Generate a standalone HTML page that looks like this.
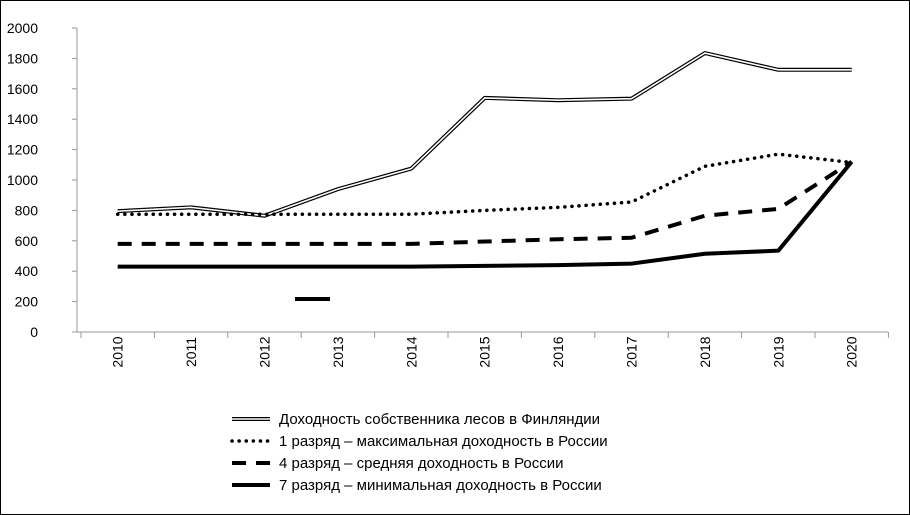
<!DOCTYPE html>
<html><head><meta charset="utf-8"><style>
body{margin:0;background:#fff}
svg{display:block;font-family:"Liberation Sans","DejaVu Sans",sans-serif}
</style></head><body>
<svg id="c" width="910" height="515">
<rect x="0.5" y="0.5" width="909" height="514" fill="#fff" stroke="#000"/>
<g id="axes"></g><g id="series"></g>
<rect x="295" y="297" width="35" height="4" fill="#000"/>
<g id="legend"></g>
</svg>
<script>
const years=["2010","2011","2012","2013","2014","2015","2016","2017","2018","2019","2020"];
const finland=[795,820,765,940,1075,1540,1525,1535,1835,1725,1725];
const grade1=[775,775,775,775,775,800,820,855,1090,1170,1115];
const grade4=[580,580,580,580,580,595,610,620,765,810,1120];
const grade7=[430,430,430,430,430,435,440,450,515,535,1120];
const yTicks=[0,200,400,600,800,1000,1200,1400,1600,1800,2000];
const names=["Доходность собственника лесов в Финляндии","1 разряд – максимальная доходность в России","4 разряд – средняя доходность в России","7 разряд – минимальная доходность в России"];
const NS="http://www.w3.org/2000/svg";
const X0=81,CW=73.4,Y0=332,Y1=28;
const xs=i=>X0+CW*(i+0.5);
const ys=v=>Y0-(v/2000)*(Y0-Y1);
function mk(t,a,p){const e=document.createElementNS(NS,t);for(const k in a)e.setAttribute(k,a[k]);p.appendChild(e);return e;}
const ax=document.getElementById('axes');
yTicks.forEach(v=>{const t=mk('text',{x:38,y:ys(v)+5,'text-anchor':'end','font-size':14,fill:'#000'},ax);t.textContent=v;


mk('line',{x1:72,x2:77,y1:ys(v),y2:ys(v),stroke:'#999'},ax);});
mk('line',{x1:77,x2:77,y1:Y1,y2:Y0,stroke:'#999'},ax);
const xl=mk('line',{x1:75,x2:888,y1:Y0,y2:Y0,stroke:'#999'},ax);


for(let i=0;i<=years.length;i++)mk('line',{x1:X0+CW*i,x2:X0+CW*i,y1:Y0,y2:Y0+6,stroke:'#999'},ax);
years.forEach((y,i)=>{const t=mk('text',{x:0,y:0,transform:`translate(${xs(i)+5},352) rotate(-90)`,'text-anchor':'middle','font-size':14,fill:'#000'},ax);t.textContent=y;

});
function path(vals){return vals.map((v,i)=>(i?'L':'M')+xs(i)+','+ys(v)).join(' ');}
const sg=document.getElementById('series');
const styles=[
 [{stroke:'#000','stroke-width':4},{stroke:'#fff','stroke-width':1.6}],
 [{stroke:'#000','stroke-width':3.5,'stroke-dasharray':'0.1 7','stroke-linecap':'round'}],
 [{stroke:'#000','stroke-width':4,'stroke-dasharray':'14 10'}],
 [{stroke:'#000','stroke-width':4}]];
const data=[finland,grade1,grade4,grade7];
const snames=['series-finland','series-grade-1','series-grade-4','series-grade-7'];
data.forEach((vals,si)=>{const g=mk('g',{},sg);


styles[si].forEach(st=>mk('path',Object.assign({d:path(vals),fill:'none','stroke-linejoin':'round'},st),g));});
const lg=document.getElementById('legend');
names.forEach((n,i)=>{const y=419+i*22;const g=mk('g',{},lg);


styles[i].forEach(st=>mk('line',Object.assign({x1:232,x2:270,y1:y,y2:y},st),g));
const t=mk('text',{x:279,y:y+5,'font-size':15,fill:'#000'},g);t.textContent=n;});
</script>
</body></html>
